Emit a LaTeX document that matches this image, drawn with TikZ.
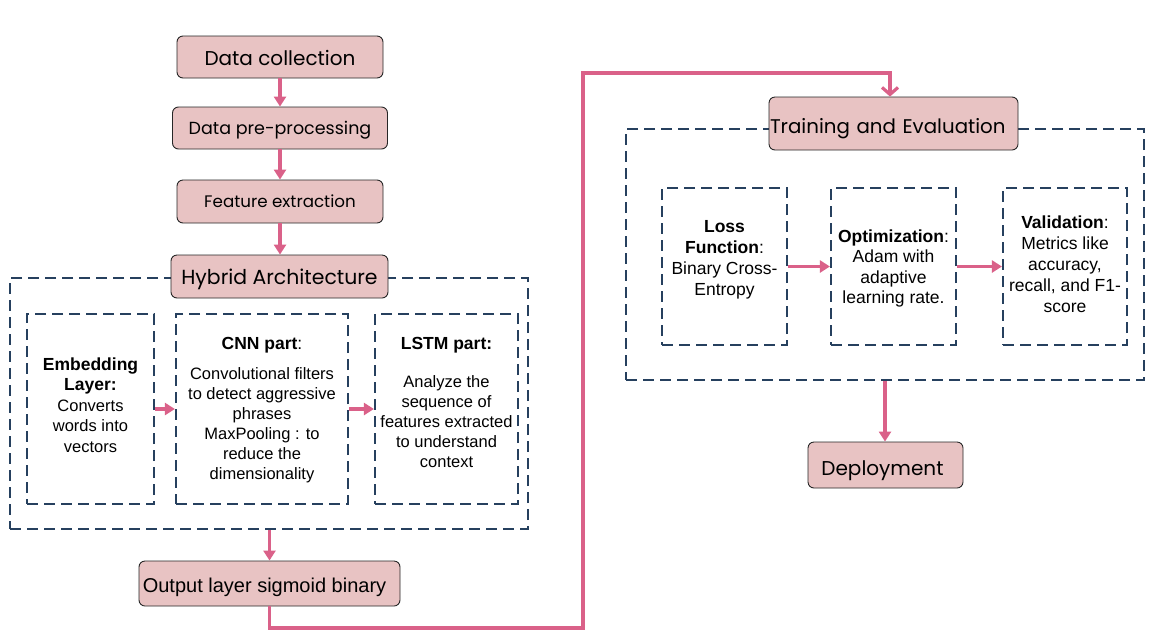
\documentclass[tikz,border=0pt]{standalone}
\usepackage{fontspec}
\setmainfont{Liberation Sans}
\newfontfamily\pop{Poppins}
\usetikzlibrary{arrows.meta}
\definecolor{pinkfill}{HTML}{E8C3C3}
\definecolor{arrowpink}{HTML}{DA6189}
\definecolor{navy}{HTML}{26405E}
\tikzset{
  titlebox/.style={draw=black!85, line width=0.9pt, fill=pinkfill, rounded corners=6pt, inner sep=0pt, text depth=0pt},
  dbox/.style={draw=navy, line width=2.2pt, dash pattern=on 11pt off 6pt, inner sep=0pt},
  boxtext/.style={align=center, inner sep=0pt},
  conn/.style={draw=arrowpink, line width=3.2pt, -{Triangle[length=10pt,width=12pt]}},
  bigconn/.style={draw=arrowpink, line width=3.2pt, -{Straight Barb[length=7pt,width=16pt,line width=3.2pt]}},
}
\begin{document}
\begin{tikzpicture}[x=1pt,y=-1pt]
\useasboundingbox (0,0) rectangle (1161,641);

% left column
\node[titlebox, text height=16pt, minimum width=206pt, minimum height=42pt, font=\pop\fontsize{20}{23}\selectfont] (dc) at (280,57) {Data collection};
\node[titlebox, text height=12.6pt, minimum width=215pt, minimum height=42pt, font=\pop\fontsize{17.5}{20}\selectfont] (dp) at (280,128) {Data pre-processing};
\node[titlebox, text height=12.4pt, minimum width=206pt, minimum height=43pt, font=\pop\fontsize{16.7}{19}\selectfont] (fe) at (280,201.5) {Feature extraction};

\node[dbox, minimum width=518pt, minimum height=251pt] (hybframe) at (269,403.5) {};
\node[titlebox, text height=16pt, minimum width=217pt, minimum height=43pt, font=\pop\fontsize{20.4}{23}\selectfont] (hy) at (279.5,276.5) {Hybrid Architecture};

\node[dbox, minimum width=127pt, minimum height=190pt] (emb) at (90.5,409) {};
\node[dbox, minimum width=172pt, minimum height=190pt] (cnn) at (262,409) {};
\node[dbox, minimum width=143pt, minimum height=190pt] (lstm) at (446.5,409) {};

\node[boxtext, font=\fontsize{16.5}{20.5}\selectfont] (embT) at ([yshift=4pt]emb.center)
  {{\fontsize{17.5}{20.5}\selectfont\bfseries Embedding}\\{\fontsize{17.5}{20.5}\selectfont\bfseries Layer:}\\Converts\\words into\\vectors};
\node[boxtext, font=\fontsize{16.5}{20}\selectfont] (cnnT) at ([yshift=-1pt]cnn.center)
  {{\fontsize{17.5}{20}\selectfont\bfseries CNN part}{\fontsize{17.5}{20}\selectfont:}\\[10pt]Convolutional filters\\to detect aggressive\\phrases\\MaxPooling : to\\reduce the\\dimensionality};
\node[boxtext, font=\fontsize{16.5}{20}\selectfont] (lstmT) at ([yshift=7pt]lstm.center)
  {{\fontsize{17.5}{20}\selectfont\bfseries LSTM part:}\\[18pt]Analyze the\\sequence of\\features extracted\\to understand\\context};

\node[titlebox, text height=17.6pt, minimum width=261pt, minimum height=45pt, font=\fontsize{20}{23}\selectfont] (out) at (269.5,583.5) {Output layer sigmoid binary\hspace*{10pt}};

% right column
\node[dbox, minimum width=518pt, minimum height=251pt] (trframe) at (885,254.5) {};
\node[titlebox, text height=19pt, minimum width=249pt, minimum height=53pt, font=\pop\fontsize{19.8}{22}\selectfont, align=left, text width=247pt] (tr) at (893.5,123.5) {Training and Evaluation};

\node[dbox, minimum width=125pt, minimum height=157pt] (loss) at (724.5,266.5) {};
\node[dbox, minimum width=125pt, minimum height=157pt] (opt) at (893.5,266.5) {};
\node[dbox, minimum width=124pt, minimum height=157pt] (val) at (1065,266.5) {};

\node[boxtext, font=\fontsize{17.5}{21}\selectfont] (lossT) at ([yshift=7pt]loss.center)
  {\textbf{Loss}\\\textbf{Function}:\\Binary Cross-\\Entropy};
\node[boxtext, font=\fontsize{17.5}{20.5}\selectfont] (optT) at ([yshift=-2pt]opt.center)
  {\textbf{Optimization}:\\Adam with\\adaptive\\learning rate.};
\node[boxtext, font=\fontsize{17.5}{21}\selectfont] (valT) at ([yshift=2pt]val.center)
  {\textbf{Validation}:\\Metrics like\\accuracy,\\recall, and F1-\\score};

\node[titlebox, text height=20pt, minimum width=155pt, minimum height=46pt, font=\pop\fontsize{20}{23}\selectfont] (dep) at (885.5,465) {Deployment\hspace*{6pt}};

% connectors
\draw[conn] (dc.south) -- (dp.north);
\draw[conn] (dp.south) -- (fe.north);
\draw[conn] (fe.south) -- (fe.south |- hy.north);
\draw[conn] (emb.east) -- (cnn.west);
\draw[conn] (cnn.east) -- (lstm.west);
\draw[conn] (hybframe.south -| out.north) -- (out.north);
\coordinate (k1) at (583,628);
\coordinate (k2) at (583,73);
\coordinate (k3) at (890,73);
\draw[bigconn] (out.south) |- (k1) -- (k2) -- (k3) -- (k3 |- tr.north);
\draw[conn] (loss.east) -- (opt.west);
\draw[conn] (opt.east) -- (val.west);
\draw[conn] (trframe.south) -- (trframe.south |- dep.north);
\end{tikzpicture}
\end{document}
